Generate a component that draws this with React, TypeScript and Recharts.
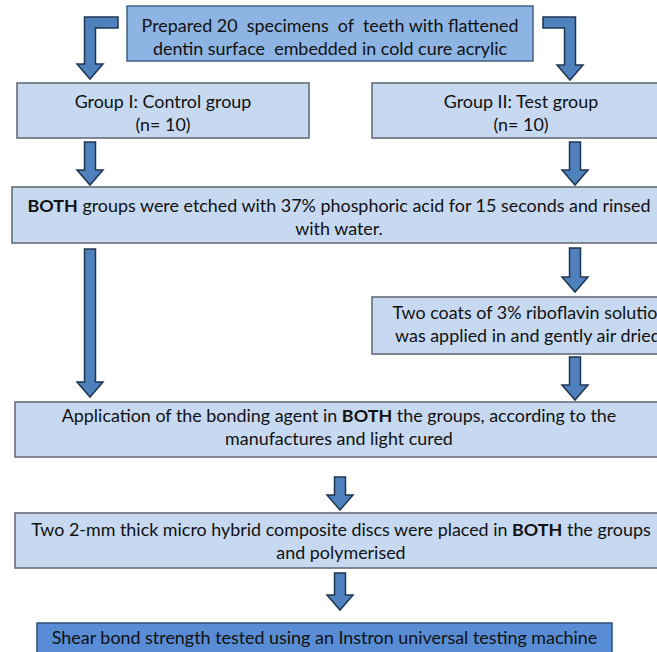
import React from 'react';
import { ComposedChart, XAxis, YAxis, ReferenceArea } from 'recharts';

const W = 657;
const H = 652;

// Flowchart nodes (text lines; **x** marks bold)
const nodeLines: string[][] = [
  ['Prepared 20  specimens  of  teeth with flattened', 'dentin surface  embedded in cold cure acrylic'],
  ['Group I: Control group', '(n= 10)'],
  ['Group II: Test group', '(n= 10)'],
  ['**BOTH** groups were etched with 37% phosphoric acid for 15 seconds and rinsed', 'with water.'],
  ['Two coats of 3% riboflavin solution', 'was applied in and gently air dried.'],
  ['Application of the bonding agent in **BOTH** the groups, according to the', 'manufactures and light cured'],
  ['Two 2-mm thick micro hybrid composite discs were placed in **BOTH** the groups', 'and polymerised'],
  ['Shear bond strength tested using an Instron universal testing machine'],
];
const nodeKind: string[] = ['mid', 'light', 'light', 'light', 'light', 'light', 'light', 'dark'];
const nodeX1: number[] = [127, 17, 372, 12, 372, 15, 15, 37];
const nodeX2: number[] = [533, 309, 670, 666, 688, 663, 667, 612];
const nodeY1: number[] = [6, 83, 83, 187, 297, 402, 513, 623];
const nodeY2: number[] = [61, 138, 138, 243, 354, 457, 568, 690];
const nodeTextCenter: number[] = [36, 112.5, 112.5, 216, 323.5, 426.5, 540.5, 637];

// Straight arrows
const arrowX: number[] = [90, 575, 90, 575, 575, 340, 340];
const arrowFrom: number[] = [142, 142, 249, 248, 357, 477, 573];
const arrowTo: number[] = [185, 185, 397, 292, 400, 510, 610];

// Elbow arrows (from top box sideways, then down)
const elbowFromX: number[] = [118, 543];
const elbowCornerX: number[] = [90, 570];
const elbowBarY: number[] = [22.5, 22.5];
const elbowTipY: number[] = [79, 80];

const FILL: Record<string, string> = { mid: '#8EB4E3', light: '#C6D9F1', dark: '#588CD5' };
const STROKE: Record<string, string> = { mid: '#3F6288', light: '#5F6670', dark: '#2E4E78' };
const ARROW_FILL = '#4F81BD';
const ARROW_STROKE = '#1F3550';
const FONT = 'Lato, "Open Sans", sans-serif';
const FS = 17.9;
const LINE_H = 23;

const renderSegments = (line: string) => {
  const parts = line.split('**');
  return parts.map((p, i) => (
    <tspan key={i} fontWeight={i % 2 === 1 ? 700 : 400}>{p}</tspan>
  ));
};

const makeBoxShape = (idx: number) => (props: any) => {
  const { x, y, width, height, yAxis } = props;
  const kind = nodeKind[idx];
  const lines = nodeLines[idx];
  const cx = x + width / 2;
  let cy = y + height / 2;
  if (yAxis && yAxis.scale) cy = yAxis.scale(nodeTextCenter[idx]);
  else cy = nodeTextCenter[idx];
  const n = lines.length;
  return (
    <g>
      <rect x={x} y={y} width={width} height={height} fill={FILL[kind]} stroke={STROKE[kind]} strokeWidth={1.5} />
      {lines.map((ln, i) => (
        <text
          key={i}
          x={cx}
          y={cy + (i - (n - 1) / 2) * LINE_H}
          textAnchor="middle"
          dominantBaseline="central"
          fontFamily={FONT}
          fontSize={FS}
          fill="#111111"
          style={{ whiteSpace: 'pre' }}
        >
          {renderSegments(ln)}
        </text>
      ))}
    </g>
  );
};

const SH = 5.5; // shaft half width
const HW = 13; // head half width
const HL = 15; // head length

const arrowShape = (props: any) => {
  const { x, y, width, height } = props;
  const cx = x + width / 2;
  const top = y;
  const tip = y + height;
  const pts = [
    [cx - SH, top],
    [cx + SH, top],
    [cx + SH, tip - HL],
    [cx + HW, tip - HL],
    [cx, tip],
    [cx - HW, tip - HL],
    [cx - SH, tip - HL],
  ];
  return <polygon points={pts.map((p) => p.join(',')).join(' ')} fill={ARROW_FILL} stroke={ARROW_STROKE} strokeWidth={1.5} strokeLinejoin="miter" />;
};

const makeElbowShape = (idx: number) => (props: any) => {
  const { x, y, width, height } = props;
  const s = elbowFromX[idx] > elbowCornerX[idx] ? 1 : -1;
  const cornerX = s > 0 ? x : x + width;
  const fromX = s > 0 ? x + width : x;
  const barY = y;
  const tipY = y + height;
  const pts = [
    [fromX, barY - SH],
    [cornerX - s * SH, barY - SH],
    [cornerX - s * SH, tipY - HL],
    [cornerX - s * HW, tipY - HL],
    [cornerX, tipY],
    [cornerX + s * HW, tipY - HL],
    [cornerX + s * SH, tipY - HL],
    [cornerX + s * SH, barY + SH],
    [fromX, barY + SH],
  ];
  return <polygon points={pts.map((p) => p.join(',')).join(' ')} fill={ARROW_FILL} stroke={ARROW_STROKE} strokeWidth={1.5} strokeLinejoin="miter" />;
};

export default function App() {
  return (
    <div style={{ position: 'absolute', left: 0, top: 0, width: W, height: H, background: '#fff', overflow: 'hidden' }}>
      <ComposedChart width={W} height={H} data={[]} margin={{ top: 0, right: 0, bottom: 0, left: 0 }}>
        <XAxis type="number" dataKey="x" domain={[0, W]} hide allowDataOverflow />
        <YAxis type="number" dataKey="y" domain={[0, H]} reversed hide allowDataOverflow />
        {elbowFromX.map((fx, i) => (
          <ReferenceArea
            key={`e${i}`}
            x1={Math.min(fx, elbowCornerX[i])}
            x2={Math.max(fx, elbowCornerX[i])}
            y1={elbowBarY[i]}
            y2={elbowTipY[i]}
            ifOverflow="visible"
            shape={makeElbowShape(i)}
          />
        ))}
        {arrowX.map((ax, i) => (
          <ReferenceArea
            key={`a${i}`}
            x1={ax - 1}
            x2={ax + 1}
            y1={arrowFrom[i]}
            y2={arrowTo[i]}
            ifOverflow="visible"
            shape={arrowShape}
          />
        ))}
        {nodeLines.map((_, i) => (
          <ReferenceArea
            key={`n${i}`}
            x1={nodeX1[i]}
            x2={nodeX2[i]}
            y1={nodeY1[i]}
            y2={nodeY2[i]}
            ifOverflow="visible"
            shape={makeBoxShape(i)}
          />
        ))}
      </ComposedChart>
    </div>
  );
}
